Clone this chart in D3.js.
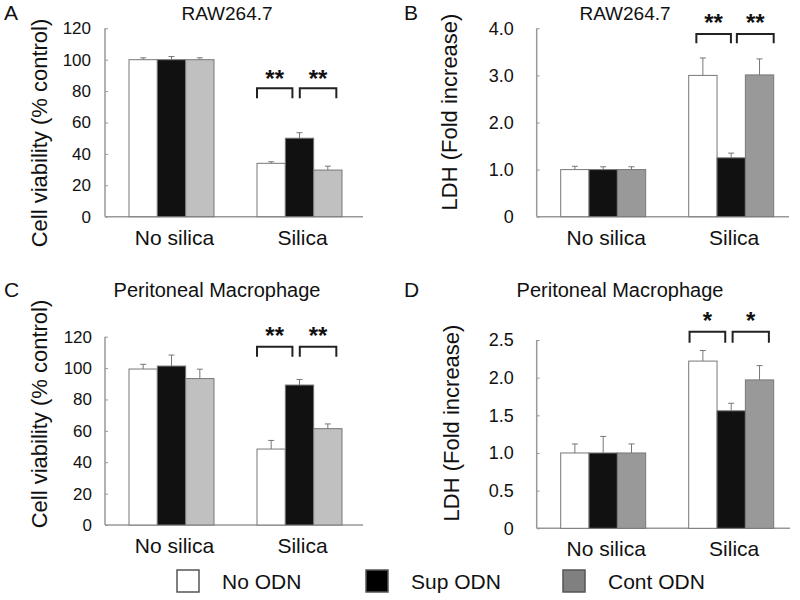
<!DOCTYPE html>
<html>
<head>
<meta charset="utf-8">
<script src="https://cdn.jsdelivr.net/npm/d3@7.9.0/dist/d3.min.js"></script>
<style>
  body { margin: 0; background: #fff; }
  text { font-family: "Liberation Sans", Arial, sans-serif; fill: #111; }
</style>
</head>
<body>
<div id="chart"></div>
<script>
// categories
const groups = ['No silica', 'Silica'];
const series = ['No ODN', 'Sup ODN', 'Cont ODN'];

// values, ordered No silica (No/Sup/Cont) then Silica (No/Sup/Cont)
const rawViability = [100, 100, 100, 34, 50, 29.7];
const rawViabilityErr = [1.2, 2, 1.2, 1, 3.5, 2.5];
const rawLDH = [1.0, 1.0, 1.0, 3.0, 1.25, 3.01];
const rawLDHErr = [0.07, 0.06, 0.06, 0.37, 0.1, 0.34];
const pmViability = [99.4, 101.3, 93.3, 48.4, 89.2, 61.4];
const pmViabilityErr = [3, 7, 6, 5.5, 3.5, 3];
const pmLDH = [1.0, 1.0, 1.0, 2.22, 1.56, 1.97];
const pmLDHErr = [0.12, 0.22, 0.12, 0.14, 0.1, 0.19];

// tick values
const viabilityTicks = [0, 20, 40, 60, 80, 100, 120];
const rawLDHTicks = [0, 1, 2, 3, 4];
const pmLDHTicks = [0, 0.5, 1, 1.5, 2, 2.5];

// significance brackets on the Silica group: [from, to] in bar widths, top/leg in data units
const rawViabilitySig = { marks: ['**', '**'], spans: [[0, 1.25], [1.51, 2.8]], top: 81.8, leg: 75.4, star: 91.5 };
const rawLDHSig = { marks: ['**', '**'], spans: [[0.27, 1.49], [1.7, 3.0]], top: 3.88, leg: 3.68, star: 4.23 };
const pmViabilitySig = { marks: ['**', '**'], spans: [[0, 1.25], [1.51, 2.8]], top: 113.6, leg: 107.3, star: 124.3 };
const pmLDHSig = { marks: ['*', '*'], spans: [[0.03, 1.29], [1.55, 2.83]], top: 2.61, leg: 2.465, star: 2.83 };

const svg = d3.select('#chart')
  .append('svg')
  .attr('width', 800)
  .attr('height', 600);

function drawPanel(p) {
  const g = svg.append('g');

  const y = d3.scaleLinear()
    .domain([0, d3.max(p.ticks)])
    .range([p.bottom, p.top]);

  const x0 = d3.scaleBand()
    .domain(groups)
    .range([p.left + 24, p.left + 237])
    .paddingInner(0.336)
    .paddingOuter(0);

  const x1 = d3.scaleBand()
    .domain(series)
    .range([0, x0.bandwidth()]);

  // axes
  const yAxis = d3.axisLeft(y)
    .tickValues(p.ticks)
    .tickSize(-3)
    .tickPadding(p.tickPad)
    .tickFormat(d => d === 0 ? '0' : p.fmt(d));
  const ya = g.append('g')
    .attr('transform', `translate(${p.left},0)`)
    .call(yAxis);
  ya.select('.domain').remove();
  ya.selectAll('line').attr('stroke', '#999');
  ya.selectAll('text')
    .style('font-size', p.tickSize + 'px')
    .style('font-family', '"Liberation Sans", Arial, sans-serif')
    .attr('fill', '#111');

  g.append('line')
    .attr('x1', p.left).attr('x2', p.left)
    .attr('y1', y(d3.max(p.ticks))).attr('y2', p.bottom)
    .attr('stroke', '#999').attr('stroke-width', 1.5);
  g.append('line')
    .attr('x1', p.left).attr('x2', p.right)
    .attr('y1', p.bottom).attr('y2', p.bottom)
    .attr('stroke', '#999').attr('stroke-width', 1.5);

  // bars
  const rows = [];
  groups.forEach((grp, i) => {
    series.forEach((s, j) => {
      rows.push({ grp, s, j, v: p.values[i * 3 + j], e: p.errors[i * 3 + j] });
    });
  });

  const bw = x1.bandwidth();

  // error bars (drawn first so bar tops sit over them)
  const eb = g.selectAll('g.err')
    .data(rows)
    .join('g')
    .attr('class', 'err');
  eb.append('line')
    .attr('x1', d => x0(d.grp) + x1(d.s) + bw / 2)
    .attr('x2', d => x0(d.grp) + x1(d.s) + bw / 2)
    .attr('y1', d => y(d.v))
    .attr('y2', d => y(d.v + d.e))
    .attr('stroke', '#777').attr('stroke-width', 1);
  eb.append('line')
    .attr('x1', d => x0(d.grp) + x1(d.s) + bw / 2 - 3)
    .attr('x2', d => x0(d.grp) + x1(d.s) + bw / 2 + 3)
    .attr('y1', d => y(d.v + d.e))
    .attr('y2', d => y(d.v + d.e))
    .attr('stroke', '#777').attr('stroke-width', 1);

  g.selectAll('rect.bar')
    .data(rows)
    .join('rect')
    .attr('class', 'bar')
    .attr('x', d => x0(d.grp) + x1(d.s))
    .attr('y', d => y(d.v))
    .attr('width', bw)
    .attr('height', d => p.bottom - y(d.v))
    .attr('fill', d => p.colors[d.j])
    .attr('stroke', '#777')
    .attr('stroke-width', 1);

  // group labels
  g.selectAll('text.grp')
    .data(groups)
    .join('text')
    .attr('class', 'grp')
    .attr('x', d => x0(d) + x0.bandwidth() / 2 + 3)
    .attr('y', p.bottom + 28)
    .attr('text-anchor', 'middle')
    .style('font-size', '21px')
    .text(d => d);

  // brackets + stars
  const sx = x0('Silica');
  p.sig.spans.forEach((sp, i) => {
    const a = sx + sp[0] * bw, b = sx + sp[1] * bw;
    g.append('path')
      .attr('d', `M${a},${y(p.sig.leg)}V${y(p.sig.top)}H${b}V${y(p.sig.leg)}`)
      .attr('fill', 'none')
      .attr('stroke', '#222')
      .attr('stroke-width', 2);
    g.append('text')
      .attr('x', (a + b) / 2)
      .attr('y', y(p.sig.star) + 14)
      .attr('text-anchor', 'middle')
      .style('font-size', '24px')
      .style('font-weight', 'bold')
      .text(p.sig.marks[i]);
  });

  // titles and labels
  g.append('text')
    .attr('x', p.titleX).attr('y', p.titleY)
    .attr('text-anchor', 'middle')
    .style('font-size', p.titleSize + 'px')
    .text(p.title);
  g.append('text')
    .attr('x', p.letterX).attr('y', p.letterY)
    .style('font-size', '21px')
    .text(p.letter);
  g.append('text')
    .attr('transform', `translate(${p.ylabX},${p.ylabY}) rotate(-90)`)
    .attr('text-anchor', 'middle')
    .attr('dy', '0.35em')
    .style('font-size', '22px')
    .text(p.ylabel);
}

const fmt1 = d3.format('.1f');

drawPanel({
  letter: 'A', letterX: 4, letterY: 20,
  title: 'RAW264.7', titleX: 227, titleY: 20, titleSize: 19,
  ylabel: 'Cell viability (% control)', ylabX: 39, ylabY: 133,
  left: 105, right: 363, top: 28.3, bottom: 216.7,
  ticks: viabilityTicks, fmt: d => String(d), tickPad: 14, tickSize: 17,
  values: rawViability, errors: rawViabilityErr,
  colors: ['#ffffff', '#111111', '#c0c0c0'], sig: rawViabilitySig
});

drawPanel({
  letter: 'B', letterX: 404, letterY: 20,
  title: 'RAW264.7', titleX: 625, titleY: 20, titleSize: 19,
  ylabel: 'LDH (Fold increase)', ylabX: 449, ylabY: 112,
  left: 536.7, right: 789, top: 28.3, bottom: 216.7,
  ticks: rawLDHTicks, fmt: fmt1, tickPad: 23, tickSize: 18,
  values: rawLDH, errors: rawLDHErr,
  colors: ['#ffffff', '#111111', '#999999'], sig: rawLDHSig
});

drawPanel({
  letter: 'C', letterX: 4, letterY: 297,
  title: 'Peritoneal Macrophage', titleX: 217, titleY: 297, titleSize: 20,
  ylabel: 'Cell viability (% control)', ylabX: 39, ylabY: 414,
  left: 105, right: 363, top: 336.7, bottom: 525,
  ticks: viabilityTicks, fmt: d => String(d), tickPad: 13, tickSize: 17,
  values: pmViability, errors: pmViabilityErr,
  colors: ['#ffffff', '#111111', '#c0c0c0'], sig: pmViabilitySig
});

drawPanel({
  letter: 'D', letterX: 404, letterY: 297,
  title: 'Peritoneal Macrophage', titleX: 620, titleY: 297, titleSize: 20,
  ylabel: 'LDH (Fold increase)', ylabX: 451, ylabY: 423,
  left: 536.7, right: 790, top: 340, bottom: 528.3,
  ticks: pmLDHTicks, fmt: fmt1, tickPad: 23, tickSize: 18,
  values: pmLDH, errors: pmLDHErr,
  colors: ['#ffffff', '#111111', '#999999'], sig: pmLDHSig
});

// legend
const legendColors = ['#ffffff', '#000000', '#808080'];
const legendX = [177, 366, 563];
const leg = svg.append('g')
  .selectAll('g')
  .data(series)
  .join('g')
  .attr('transform', (d, i) => `translate(${legendX[i]},570)`);
leg.append('rect')
  .attr('width', 22).attr('height', 22)
  .attr('fill', (d, i) => legendColors[i])
  .attr('stroke', '#555').attr('stroke-width', 1.5);
leg.append('text')
  .attr('x', 45).attr('y', 19)
  .style('font-size', '21px')
  .text(d => d);
</script>
</body>
</html>
